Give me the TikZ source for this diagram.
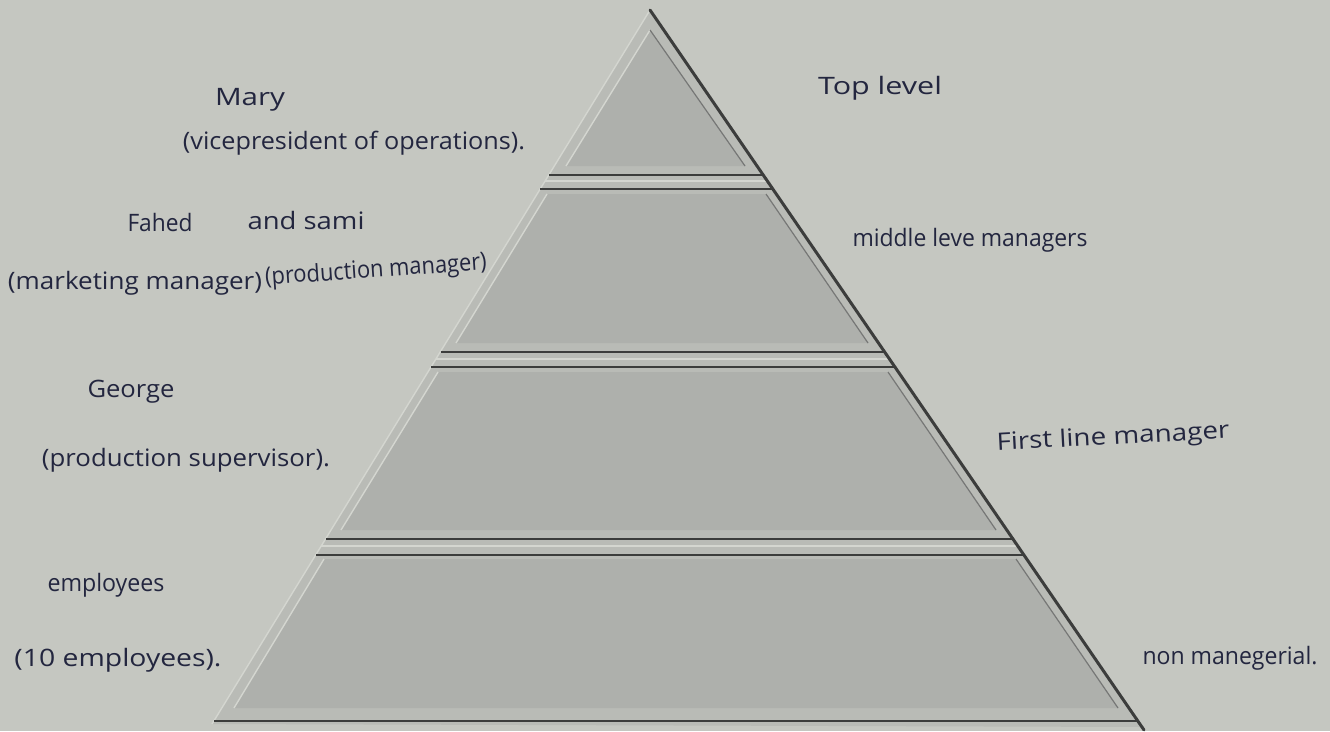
\documentclass[tikz,border=0pt]{standalone}
\usepackage{fontspec}
\usepackage{graphicx}
\setmainfont{Open Sans}
\definecolor{bg}{HTML}{C5C7C1}
\definecolor{framec}{HTML}{B9BBB6}
\definecolor{panelc}{HTML}{AEB0AC}
\definecolor{shade}{HTML}{3C3D3C}
\definecolor{lite}{HTML}{D4D6D0}
\definecolor{ink}{HTML}{23263F}
\newcommand{\hw}[2]{\resizebox{#1pt}{\height}{#2}}
\begin{document}
\begin{tikzpicture}[x=1pt,y=-1pt,
  hw/.style={text=ink, inner sep=0pt, font=\fontsize{24}{28}\selectfont},
  panel/.style={fill=panelc},
  darkline/.style={draw=shade, line width=1.6pt},
  liteline/.style={draw=lite, line width=1.4pt},
  edgeshadow/.style={draw=shade, line width=3pt, line cap=round}]
\useasboundingbox (0,0) rectangle (1330,731);
\fill[bg] (0,0) rectangle (1330,731);
% pyramid body
\coordinate (apex) at (650,10);
\coordinate (bl) at (212,724);
\coordinate (br) at (1142,727);
\fill[framec] (apex) -- (br) -- (bl) -- cycle;
\draw[liteline] (apex) -- (bl);
% panels
\fill[panel] (650,30) -- (745,166) -- (566,166) -- cycle;
\fill[panel] (547,194) -- (766,194) -- (868,343) -- (456,343) -- cycle;
\fill[panel] (438,372) -- (888,372) -- (996,530) -- (341,530) -- cycle;
\fill[panel] (324,559) -- (1016,559) -- (1118,708) -- (234,708) -- cycle;
% panel bevels
\draw[liteline] (566,166) -- (650,30);
\draw[draw=shade!70, line width=1.2pt] (650,30) -- (745,166);
\draw[liteline] (456,343) -- (547,194);
\draw[draw=shade!70, line width=1.2pt] (766,194) -- (868,343);
\draw[liteline] (341,530) -- (438,372);
\draw[draw=shade!70, line width=1.2pt] (888,372) -- (996,530);
\draw[liteline] (234,708) -- (324,559);
\draw[draw=shade!70, line width=1.2pt] (1016,559) -- (1118,708);
% bars (mouldings)
\draw[darkline] (548.9,175) -- (763.0,175);
\draw[liteline] (545,181) -- (767,181);
\draw[darkline] (540.3,189) -- (772.6,189);
\draw[darkline] (440.5,352) -- (884.3,352);
\draw[liteline] (436,359) -- (889,359);
\draw[darkline] (431.3,367) -- (894.5,367);
\draw[darkline] (325.9,539) -- (1012.4,539);
\draw[liteline] (321,546) -- (1018,546);
\draw[darkline] (316.1,555) -- (1023.3,555);
\draw[darkline] (214.4,721) -- (1137.0,721);
% outer right shadow edge
\draw[edgeshadow] (apex) -- (1144,730);
% labels, left
\node[hw] (mary) at (250,100) {\hw{70}{Mary}};
\node[hw] (vp) at (354,143) {\hw{342}{(vicepresident of operations).}};
\node[hw] (fahed) at (160,222) {\hw{65}{Fahed}};
\node[hw] (sami) at (306,220) {\hw{117}{and sami}};
\node[hw] (mkt) at (135,283) {\hw{254}{(marketing manager)}};
\node[hw, rotate=4] (prodm) at (376,271) {\hw{222}{(production manager)}};
\node[hw] (george) at (131,392) {\hw{87}{George}};
\node[hw] (sup) at (186,460) {\hw{288}{(production supervisor).}};
\node[hw] (emp) at (106,585) {\hw{117}{employees}};
\node[hw] (ten) at (118,660) {\hw{207}{(10 employees).}};
% labels, right
\node[hw] (top) at (880,88) {\hw{124}{Top level}};
\node[hw] (mid) at (970,240) {\hw{235}{middle leve managers}};
\node[hw, rotate=3] (first) at (1113,438) {\hw{233}{First line manager}};
\node[hw] (non) at (1230,658) {\hw{175}{non manegerial.}};
\end{tikzpicture}
\end{document}
